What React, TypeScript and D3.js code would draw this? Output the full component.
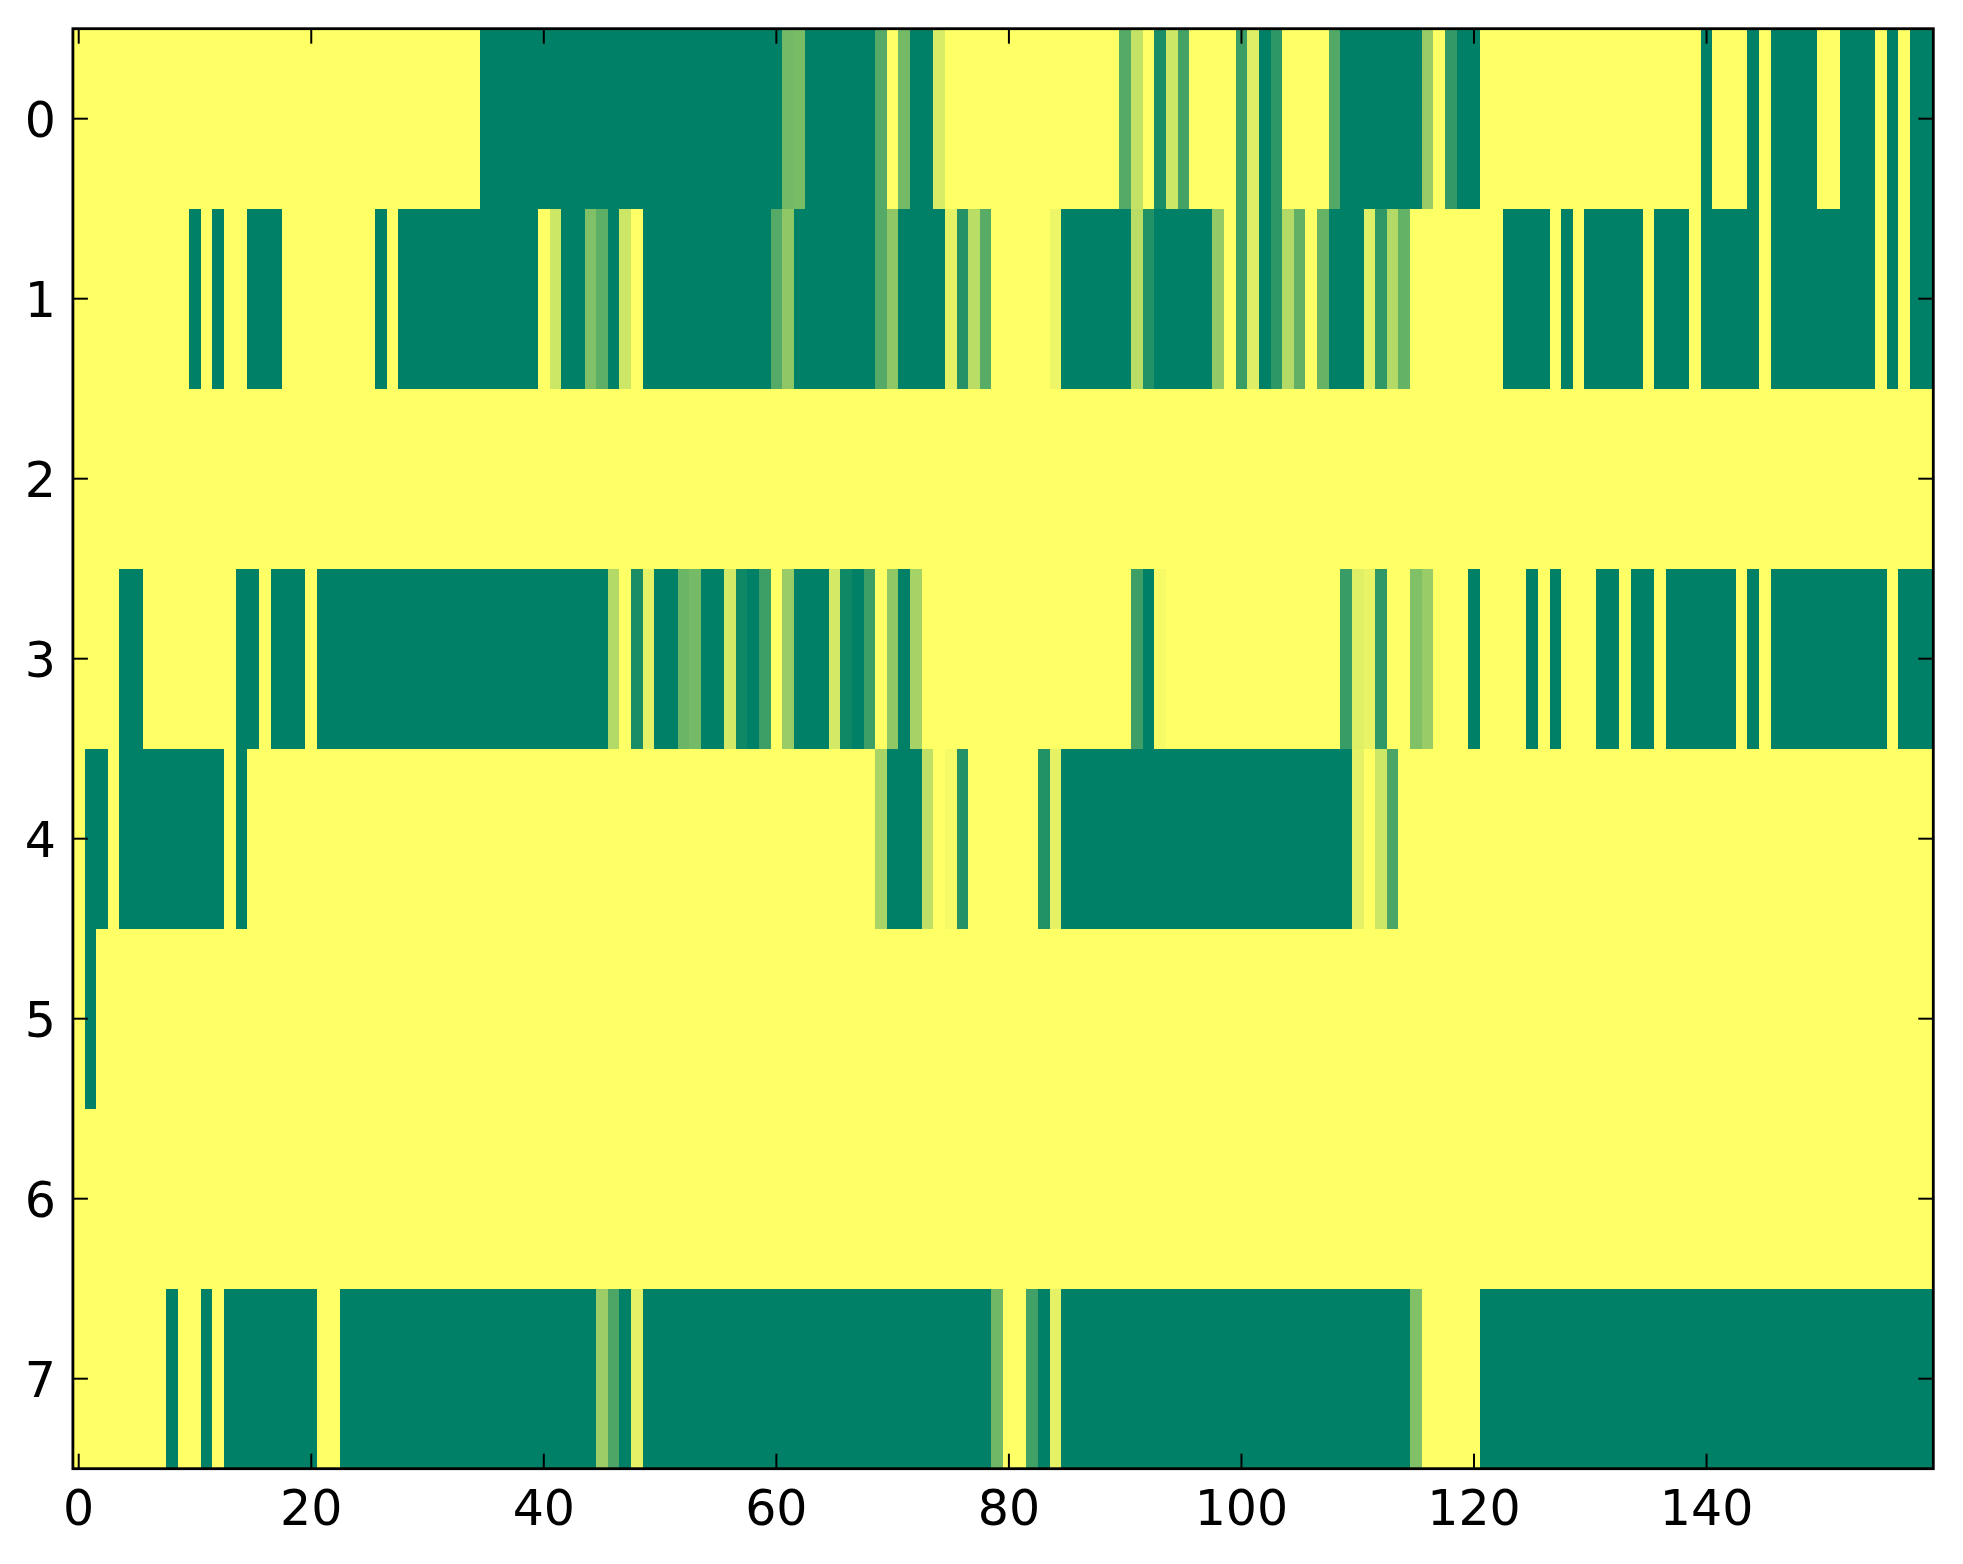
import { scaleLinear, interpolateRgb } from "d3";

// heatmap rows (0 = green, 1 = yellow on the "summer" ramp), 160 columns each
const row0 = [
  1, 1, 1, 1, 1, 1, 1, 1, 1, 1, 1, 1, 1, 1, 1, 1, 1, 1, 1, 1,
  1, 1, 1, 1, 1, 1, 1, 1, 1, 1, 1, 1, 1, 1, 1, 0, 0, 0, 0, 0,
  0, 0, 0, 0, 0, 0, 0, 0, 0, 0, 0, 0, 0, 0, 0, 0, 0, 0, 0, 0,
  0, 0.45, 0.47, 0, 0, 0, 0, 0, 0, 0.33, 1, 0.45, 0, 0, 0.85, 1, 1, 1, 1, 1,
  1, 1, 1, 1, 1, 1, 1, 1, 1, 1, 0.33, 0.77, 1, 0.1, 0.8, 0.27, 1, 1, 1, 1,
  0.23, 0.87, 0, 0.18, 1, 1, 1, 1, 0.32, 0, 0, 0, 0, 0, 0, 0, 0.6, 1, 0.2, 0,
  0, 1, 1, 1, 1, 1, 1, 1, 1, 1, 1, 1, 1, 1, 1, 1, 1, 1, 1, 1,
  0, 1, 1, 1, 0, 1, 0, 0, 0, 0, 1, 1, 0, 0, 0, 1, 0, 1, 0, 0,
];

const row1 = [
  1, 1, 1, 1, 1, 1, 1, 1, 1, 1, 0, 1, 0, 1, 1, 0, 0, 0, 1, 1,
  1, 1, 1, 1, 1, 1, 0, 1, 0, 0, 0, 0, 0, 0, 0, 0, 0, 0, 0, 0,
  1, 0.8, 0, 0, 0.5, 0.37, 0, 0.8, 1, 0, 0, 0, 0, 0, 0, 0, 0, 0, 0, 0,
  0.33, 0.56, 0, 0, 0, 0, 0, 0, 0, 0.33, 0.56, 0, 0, 0, 0, 0.9, 0.14, 0.73, 0.35, 1,
  1, 1, 1, 1, 0.93, 0, 0, 0, 0, 0, 0, 0.73, 0.13, 0, 0, 0, 0, 0, 0.58, 1,
  0.23, 0.87, 0, 0.18, 0.7, 0.38, 1, 0.4, 0, 0, 0, 0.88, 0.19, 0.7, 0.39, 1, 1, 1, 1, 1,
  1, 1, 1, 0, 0, 0, 0, 1, 0, 1, 0, 0, 0, 0, 0, 1, 0, 0, 0, 1,
  0, 0, 0, 0, 0, 1, 0, 0, 0, 0, 0, 0, 0, 0, 0, 1, 0, 1, 0, 0,
];

const row2 = [
  1, 1, 1, 1, 1, 1, 1, 1, 1, 1, 1, 1, 1, 1, 1, 1, 1, 1, 1, 1,
  1, 1, 1, 1, 1, 1, 1, 1, 1, 1, 1, 1, 1, 1, 1, 1, 1, 1, 1, 1,
  1, 1, 1, 1, 1, 1, 1, 1, 1, 1, 1, 1, 1, 1, 1, 1, 1, 1, 1, 1,
  1, 1, 1, 1, 1, 1, 1, 1, 1, 1, 1, 1, 1, 1, 1, 1, 1, 1, 1, 1,
  1, 1, 1, 1, 1, 1, 1, 1, 1, 1, 1, 1, 1, 1, 1, 1, 1, 1, 1, 1,
  1, 1, 1, 1, 1, 1, 1, 1, 1, 1, 1, 1, 1, 1, 1, 1, 1, 1, 1, 1,
  1, 1, 1, 1, 1, 1, 1, 1, 1, 1, 1, 1, 1, 1, 1, 1, 1, 1, 1, 1,
  1, 1, 1, 1, 1, 1, 1, 1, 1, 1, 1, 1, 1, 1, 1, 1, 1, 1, 1, 1,
];

const row3 = [
  1, 1, 1, 1, 0, 0, 1, 1, 1, 1, 1, 1, 1, 1, 0, 0, 1, 0, 0, 0,
  1, 0, 0, 0, 0, 0, 0, 0, 0, 0, 0, 0, 0, 0, 0, 0, 0, 0, 0, 0,
  0, 0, 0, 0, 0, 0, 0.7, 1, 0.1, 0.9, 0, 0, 0.42, 0.46, 0, 0, 0.83, 0.06, 0, 0.24,
  1, 0.6, 0, 0, 0, 0.83, 0.06, 0, 0.24, 1, 0.57, 0, 0.65, 1, 1, 1, 1, 1, 1, 1,
  1, 1, 1, 1, 1, 1, 1, 1, 1, 1, 1, 0.24, 0, 0.96, 1, 1, 1, 1, 1, 1,
  1, 1, 1, 1, 1, 1, 1, 1, 1, 0.22, 0.88, 0.91, 0.19, 1, 1, 0.5, 0.6, 1, 1, 1,
  0, 1, 1, 1, 1, 0, 1, 0, 1, 1, 1, 0, 0, 1, 0, 0, 1, 0, 0, 0,
  0, 0, 0, 1, 0, 1, 0, 0, 0, 0, 0, 0, 0, 0, 0, 0, 1, 0, 0, 0,
];

const row4 = [
  1, 0, 0, 1, 0, 0, 0, 0, 0, 0, 0, 0, 0, 1, 0, 1, 1, 1, 1, 1,
  1, 1, 1, 1, 1, 1, 1, 1, 1, 1, 1, 1, 1, 1, 1, 1, 1, 1, 1, 1,
  1, 1, 1, 1, 1, 1, 1, 1, 1, 1, 1, 1, 1, 1, 1, 1, 1, 1, 1, 1,
  1, 1, 1, 1, 1, 1, 1, 1, 1, 0.66, 0, 0, 0, 0.75, 1, 0.96, 0.14, 1, 1, 1,
  1, 1, 1, 0.13, 0.9, 0, 0, 0, 0, 0, 0, 0, 0, 0, 0, 0, 0, 0, 0, 0,
  0, 0, 0, 0, 0, 0, 0, 0, 0, 0, 0.9, 1, 0.8, 0.29, 1, 1, 1, 1, 1, 1,
  1, 1, 1, 1, 1, 1, 1, 1, 1, 1, 1, 1, 1, 1, 1, 1, 1, 1, 1, 1,
  1, 1, 1, 1, 1, 1, 1, 1, 1, 1, 1, 1, 1, 1, 1, 1, 1, 1, 1, 1,
];

const row5 = [
  1, 0, 1, 1, 1, 1, 1, 1, 1, 1, 1, 1, 1, 1, 1, 1, 1, 1, 1, 1,
  1, 1, 1, 1, 1, 1, 1, 1, 1, 1, 1, 1, 1, 1, 1, 1, 1, 1, 1, 1,
  1, 1, 1, 1, 1, 1, 1, 1, 1, 1, 1, 1, 1, 1, 1, 1, 1, 1, 1, 1,
  1, 1, 1, 1, 1, 1, 1, 1, 1, 1, 1, 1, 1, 1, 1, 1, 1, 1, 1, 1,
  1, 1, 1, 1, 1, 1, 1, 1, 1, 1, 1, 1, 1, 1, 1, 1, 1, 1, 1, 1,
  1, 1, 1, 1, 1, 1, 1, 1, 1, 1, 1, 1, 1, 1, 1, 1, 1, 1, 1, 1,
  1, 1, 1, 1, 1, 1, 1, 1, 1, 1, 1, 1, 1, 1, 1, 1, 1, 1, 1, 1,
  1, 1, 1, 1, 1, 1, 1, 1, 1, 1, 1, 1, 1, 1, 1, 1, 1, 1, 1, 1,
];

const row6 = [
  1, 1, 1, 1, 1, 1, 1, 1, 1, 1, 1, 1, 1, 1, 1, 1, 1, 1, 1, 1,
  1, 1, 1, 1, 1, 1, 1, 1, 1, 1, 1, 1, 1, 1, 1, 1, 1, 1, 1, 1,
  1, 1, 1, 1, 1, 1, 1, 1, 1, 1, 1, 1, 1, 1, 1, 1, 1, 1, 1, 1,
  1, 1, 1, 1, 1, 1, 1, 1, 1, 1, 1, 1, 1, 1, 1, 1, 1, 1, 1, 1,
  1, 1, 1, 1, 1, 1, 1, 1, 1, 1, 1, 1, 1, 1, 1, 1, 1, 1, 1, 1,
  1, 1, 1, 1, 1, 1, 1, 1, 1, 1, 1, 1, 1, 1, 1, 1, 1, 1, 1, 1,
  1, 1, 1, 1, 1, 1, 1, 1, 1, 1, 1, 1, 1, 1, 1, 1, 1, 1, 1, 1,
  1, 1, 1, 1, 1, 1, 1, 1, 1, 1, 1, 1, 1, 1, 1, 1, 1, 1, 1, 1,
];

const row7 = [
  1, 1, 1, 1, 1, 1, 1, 1, 0, 1, 1, 0, 1, 0, 0, 0, 0, 0, 0, 0,
  0, 1, 1, 0, 0, 0, 0, 0, 0, 0, 0, 0, 0, 0, 0, 0, 0, 0, 0, 0,
  0, 0, 0, 0, 0, 0.61, 0.3, 0, 0.9, 0, 0, 0, 0, 0, 0, 0, 0, 0, 0, 0,
  0, 0, 0, 0, 0, 0, 0, 0, 0, 0, 0, 0, 0, 0, 0, 0, 0, 0, 0, 0.44,
  1, 1, 0.26, 0, 0.9, 0, 0, 0, 0, 0, 0, 0, 0, 0, 0, 0, 0, 0, 0, 0,
  0, 0, 0, 0, 0, 0, 0, 0, 0, 0, 0, 0, 0, 0, 0, 0.5, 1, 1, 1, 1,
  1, 0, 0, 0, 0, 0, 0, 0, 0, 0, 0, 0, 0, 0, 0, 0, 0, 0, 0, 0,
  0, 0, 0, 0, 0, 0, 0, 0, 0, 0, 0, 0, 0, 0, 0, 0, 0, 0, 0, 0,
];

const rows = [row0, row1, row2, row3, row4, row5, row6, row7];
const xTicks = [0, 20, 40, 60, 80, 100, 120, 140];
const yTicks = [0, 1, 2, 3, 4, 5, 6, 7];

const WIDTH = 1963;
const HEIGHT = 1564;
const plot = { left: 72.9, right: 1933.3, top: 28.7, bottom: 1468.7 };
const TICK = 15;
const FONT = "DejaVu Sans";
const FONT_SIZE = 49;

export default function App() {
  const nCols = row0.length;
  const x = scaleLinear().domain([-0.5, nCols - 0.5]).range([plot.left, plot.right]);
  const y = scaleLinear().domain([-0.5, rows.length - 0.5]).range([plot.top, plot.bottom]);
  const color = interpolateRgb("#008066", "#ffff66");

  return (
    <svg
      width={WIDTH}
      height={HEIGHT}
      style={{ position: "absolute", left: 0, top: 0 }}
      fontFamily={FONT}
    >
      <rect width={WIDTH} height={HEIGHT} fill="#fff" />

      <g shapeRendering="crispEdges">
        {rows.map((row, r) =>
          row.map((v, c) => (
            <rect
              key={`c-${r}-${c}`}
              x={x(c - 0.5)}
              y={y(r - 0.5)}
              width={x(c + 0.5) - x(c - 0.5) + 0.5}
              height={y(r + 0.5) - y(r - 0.5) + 0.5}
              fill={color(v)}
            />
          ))
        )}
      </g>

      {/* ticks point inward on all four sides */}
      <g stroke="#000" strokeWidth={2}>
        {xTicks.map((t) => (
          <g key={`xt-${t}`}>
            <line x1={x(t)} x2={x(t)} y1={plot.bottom} y2={plot.bottom - TICK} />
            <line x1={x(t)} x2={x(t)} y1={plot.top} y2={plot.top + TICK} />
          </g>
        ))}
        {yTicks.map((t) => (
          <g key={`yt-${t}`}>
            <line x1={plot.left} x2={plot.left + TICK} y1={y(t)} y2={y(t)} />
            <line x1={plot.right} x2={plot.right - TICK} y1={y(t)} y2={y(t)} />
          </g>
        ))}
      </g>

      <rect
        x={plot.left}
        y={plot.top}
        width={plot.right - plot.left}
        height={plot.bottom - plot.top}
        fill="none"
        stroke="#000"
        strokeWidth={2.8}
      />

      <g fontSize={FONT_SIZE} fill="#000">
        {xTicks.map((t) => (
          <text key={`xl-${t}`} x={x(t)} y={1525} textAnchor="middle">
            {t}
          </text>
        ))}
        {yTicks.map((t) => (
          <text key={`yl-${t}`} x={plot.left - 17} y={y(t) + 18} textAnchor="end">
            {t}
          </text>
        ))}
      </g>
    </svg>
  );
}
